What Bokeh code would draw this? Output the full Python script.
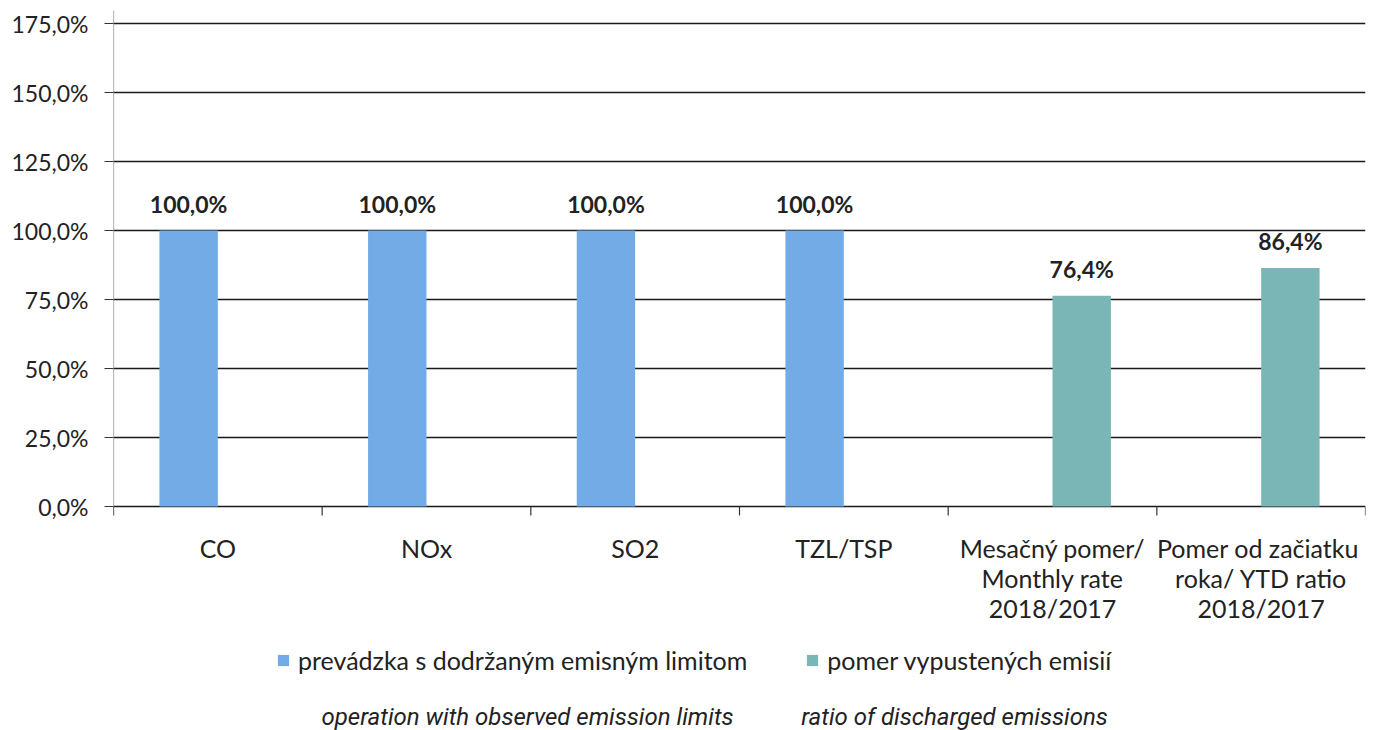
from bokeh.plotting import figure
from bokeh.models import (ColumnDataSource, Range1d, FixedTicker, Legend, LegendItem)
from bokeh.core.properties import value
from bokeh.embed import file_html
from bokeh.resources import INLINE

categories = ["CO", "NOx", "SO2", "TZL/TSP",
              "Mesačný pomer/\nMonthly rate\n2018/2017",
              "Pomer  od začiatku\nroka/ YTD ratio\n2018/2017"]
series_blue = [100.0, 100.0, 100.0, 100.0, None, None]
series_teal = [None, None, None, None, 76.4, 86.4]
y_ticks = [0, 25, 50, 75, 100, 125, 150, 175]
y_tick_labels = ["0,0%", "25,0%", "50,0%", "75,0%", "100,0%", "125,0%", "150,0%", "175,0%"]
legend_sk = ["prevádzka s dodržaným emisným limitom", "pomer vypustených emisií"]
legend_en = ["operation with observed emission limits", "ratio of discharged emissions"]

BLUE = "#72abe6"
TEAL = "#7bb6b7"
FONT = "Lato"
EN_FONT = "Roboto"
BAR_W = 0.28

W, H = 1370, 730
FRAME_LEFT, FRAME_RIGHT, FRAME_TOP = 113, 1365, 10
ZERO_PX = 506          # screen row of the 0 % line
PX_PER_UNIT = 2.76     # pixels per percentage point


def dy(px):
    """convert a pixel distance to data units"""
    return px / PX_PER_UNIT


n = len(categories)
centers = [i + 0.5 for i in range(n)]
x_px = (FRAME_RIGHT - FRAME_LEFT) / n

blue_idx = [i for i, v in enumerate(series_blue) if v is not None]
teal_idx = [i for i, v in enumerate(series_teal) if v is not None]

src_blue = ColumnDataSource(dict(
    x=[centers[i] - BAR_W / 2 for i in blue_idx],
    top=[series_blue[i] for i in blue_idx],
    lab=[f"{series_blue[i]:.1f}%".replace(".", ",") for i in blue_idx],
))
src_teal = ColumnDataSource(dict(
    x=[centers[i] + BAR_W / 2 for i in teal_idx],
    top=[series_teal[i] for i in teal_idx],
    lab=[f"{series_teal[i]:.1f}%".replace(".", ",") for i in teal_idx],
))

y_top = dy(ZERO_PX - FRAME_TOP)
y_bot = -dy(H - ZERO_PX)

p = figure(width=W, height=H, output_backend="svg", toolbar_location=None,
           x_range=Range1d(0, n), y_range=Range1d(y_bot, y_top),
           min_border_left=FRAME_LEFT, min_border_right=W - FRAME_RIGHT,
           min_border_top=FRAME_TOP, min_border_bottom=0)
p.outline_line_color = None
p.background_fill_color = "white"
p.border_fill_color = "white"
p.xaxis.visible = False
p.xgrid.grid_line_color = None
p.ygrid.grid_line_color = "#1a1a1a"
p.ygrid.grid_line_width = 1.6

# y axis (ticks/labels); axis line drawn only over the plotting area
p.yaxis.ticker = FixedTicker(ticks=y_ticks)
p.ygrid.ticker = FixedTicker(ticks=y_ticks)
p.yaxis.major_label_overrides = {t: l for t, l in zip(y_ticks, y_tick_labels)}
p.yaxis.major_label_text_font = FONT
p.yaxis.major_label_text_font_size = "23px"
p.yaxis.major_label_text_color = "#222222"
p.yaxis.axis_line_color = None
p.yaxis.major_tick_line_color = "#333333"
p.yaxis.major_tick_out = 9
p.yaxis.major_tick_in = 0
p.yaxis.minor_tick_line_color = None
p.yaxis.major_label_standoff = 16

p.segment(x0=[0], y0=[-dy(9)], x1=[0], y1=[y_top], line_color="#777777", line_width=1.2)

# category separators (tick marks below the baseline)
bounds = list(range(n + 1))
p.segment(x0=bounds, y0=[0] * len(bounds), x1=bounds, y1=[-dy(9)] * len(bounds),
          line_color="#333333", line_width=1.2)

r_blue = p.vbar(x="x", top="top", width=BAR_W, bottom=0, source=src_blue,
                fill_color=BLUE, line_color=None)
r_teal = p.vbar(x="x", top="top", width=BAR_W, bottom=0, source=src_teal,
                fill_color=TEAL, line_color=None)

for src in (src_blue, src_teal):
    p.text(x="x", y="top", text="lab", source=src, text_align="center",
           text_baseline="bottom", y_offset=-13, text_font=value(FONT),
           text_font_style="bold", text_font_size="23px", text_color="#222222")

# category labels (one row per line of text)
cx, cy, ct = [], [], []
for c, lab in zip(centers, categories):
    for k, line in enumerate(lab.split("\n")):
        cx.append(c)
        cy.append(-dy(41 + 30 * k))
        ct.append(line)
p.text(x=cx, y=cy, text=ct, text_align="center", text_baseline="middle",
       text_font=value(FONT), text_font_size="25px", text_color="#222222")

legend1 = Legend(items=[LegendItem(label=legend_sk[0], renderers=[r_blue]),
                        LegendItem(label=legend_sk[1], renderers=[r_teal])],
                 orientation="horizontal", location=(163, 55),
                 label_text_font=FONT, label_text_font_size="25px",
                 label_text_color="#222222", glyph_width=14, glyph_height=14,
                 label_standoff=8, spacing=58, padding=0, margin=0,
                 border_line_color=None, background_fill_alpha=0)
p.add_layout(legend1, "center")

en_x = [(527 - FRAME_LEFT) / x_px, (954 - FRAME_LEFT) / x_px]
p.text(x=en_x, y=[-dy(716 - ZERO_PX)] * 2, text=legend_en, text_align="center",
       text_baseline="middle", text_font=value(EN_FONT), text_font_style="italic",
       text_font_size="24px", text_color="#222222")

open("out.html", "w").write(file_html(p, INLINE))
